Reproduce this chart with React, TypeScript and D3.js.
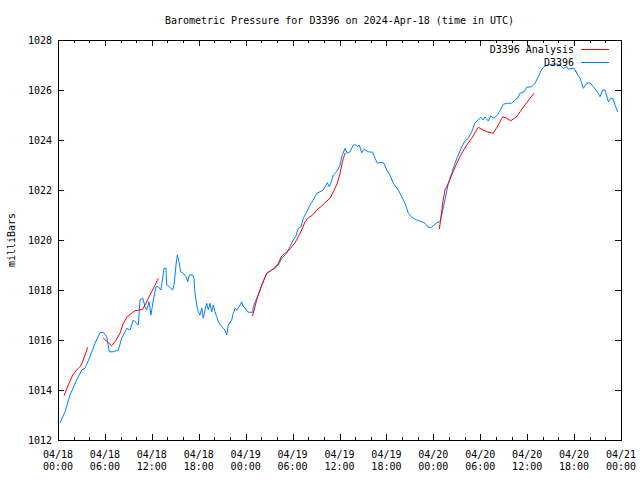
import React from "react";
import * as d3 from "d3";

// Hours after 2024-04-18 00:00 UTC and pressure (mb) for D3396 observations
const obsHours = [0.26,0.9,1.53,2.39,3.03,3.45,4.09,4.73,5.37,5.79,6.23,6.56,7.07,7.71,8.15,8.79,9.21,9.63,10.27,10.49,10.83,11.13,11.34,11.64,11.89,12.19,12.53,12.83,13.17,13.56,13.81,13.9,14.2,14.67,14.87,15.09,15.26,15.47,15.69,16.03,16.37,16.59,16.79,17.23,17.39,17.52,17.74,17.94,18.16,18.38,18.58,18.8,19.02,19.22,19.44,19.66,19.86,20.08,20.3,20.5,20.94,21.36,21.58,21.78,22.21,22.42,22.64,22.89,23.28,23.49,23.66,23.92,24.34,24.9,24.98,25.41,25.83,26.26,26.69,27.33,27.75,28.17,28.61,29.25,29.67,30.09,30.44,30.73,31.08,31.37,31.81,32.23,32.65,33.09,33.51,33.93,34.15,34.44,34.7,34.88,35.21,35.64,36.07,36.28,36.7,37.0,37.34,37.77,38.11,38.33,38.53,38.84,39.13,39.68,40.25,40.54,40.84,41.4,41.69,42.04,42.46,42.88,43.52,43.96,44.38,44.8,45.24,45.88,46.51,46.94,47.36,47.79,48.43,48.85,49.07,49.49,49.92,50.35,50.77,51.19,51.63,52.05,52.47,52.91,53.33,53.75,54.06,54.39,54.61,55.03,55.34,55.76,56.18,56.53,56.95,57.46,58.02,58.45,58.87,59.08,59.6,59.94,60.58,61.0,61.43,61.86,62.28,62.71,63.35,63.78,64.2,64.62,65.06,65.26,65.83,66.12,66.34,66.76,67.18,67.62,68.04,68.46,68.97,69.32,69.66,69.96,70.38,70.69,70.94,71.24,71.58];
const obsValues = [1012.69,1013.13,1013.8,1014.4,1014.8,1014.87,1015.33,1015.87,1016.29,1016.31,1016.13,1015.53,1015.53,1015.6,1016.07,1016.47,1016.4,1016.8,1016.6,1017.6,1017.68,1017.33,1017.2,1017.53,1017.0,1017.6,1018.13,1018.13,1018.0,1018.87,1018.87,1018.2,1018.13,1018.0,1018.27,1019.0,1019.4,1019.13,1018.73,1018.67,1018.53,1018.33,1018.6,1018.6,1018.47,1017.87,1017.4,1017.13,1017.0,1017.28,1016.87,1017.2,1017.47,1017.2,1017.47,1017.13,1017.4,1017.13,1016.93,1016.73,1016.53,1016.4,1016.2,1016.6,1016.8,1017.07,1017.27,1017.2,1017.4,1017.53,1017.36,1017.27,1017.11,1017.11,1017.33,1017.67,1018.0,1018.33,1018.67,1018.8,1018.93,1019.0,1019.27,1019.47,1019.73,1020.0,1020.16,1020.47,1020.53,1020.87,1021.13,1021.4,1021.6,1021.87,1021.93,1022.0,1022.13,1022.29,1022.13,1022.27,1022.6,1022.73,1023.0,1023.33,1023.67,1023.47,1023.53,1023.8,1023.8,1023.73,1023.8,1023.49,1023.63,1023.53,1023.51,1023.27,1023.07,1023.11,1023.07,1022.8,1022.6,1022.27,1022.0,1021.73,1021.47,1021.07,1020.91,1020.8,1020.73,1020.67,1020.51,1020.51,1020.69,1020.73,1021.0,1021.6,1022.27,1022.67,1023.07,1023.4,1023.73,1023.96,1024.07,1024.33,1024.69,1024.8,1024.91,1024.8,1024.92,1024.76,1024.96,1024.87,1025.0,1025.17,1025.43,1025.47,1025.47,1025.6,1025.71,1025.87,1025.93,1026.11,1026.13,1026.27,1026.53,1026.83,1026.96,1027.0,1027.04,1027.04,1027.0,1026.87,1026.93,1026.83,1026.87,1026.83,1026.67,1026.47,1026.07,1026.27,1026.29,1026.13,1025.93,1025.73,1026.0,1026.0,1025.53,1025.67,1025.67,1025.4,1025.13];

// Analysis series (NaN separates the runs)
const anaHours = [0.77,1.32,1.88,2.39,2.9,3.24,3.8,NaN,5.79,6.31,6.87,7.29,7.93,8.35,8.86,9.43,9.85,10.4,10.83,11.13,11.55,11.98,12.41,12.83,NaN,24.87,25.41,26.05,26.69,27.33,27.84,28.17,28.61,29.03,29.45,29.89,30.31,30.73,31.17,31.59,32.01,32.57,33.09,33.72,34.28,34.79,35.21,35.72,36.07,36.28,36.49,36.74,NaN,48.76,48.94,49.2,49.49,49.92,50.35,50.99,51.63,52.27,52.91,53.75,54.19,54.83,55.67,56.31,56.87,57.38,57.9,58.66,59.08,59.73,60.36,60.88];
const anaValues = [1013.77,1014.2,1014.6,1014.8,1014.96,1015.2,1015.71,NaN,1016.07,1015.93,1015.77,1015.93,1016.27,1016.67,1016.93,1017.07,1017.17,1017.2,1017.23,1017.4,1017.67,1017.93,1018.2,1018.47,NaN,1016.96,1017.6,1018.2,1018.67,1018.8,1018.89,1019.07,1019.36,1019.47,1019.57,1019.73,1019.89,1020.13,1020.4,1020.73,1020.89,1021.0,1021.2,1021.36,1021.53,1021.67,1021.93,1022.27,1022.67,1023.0,1023.27,1023.49,NaN,1020.43,1020.8,1021.47,1022.0,1022.27,1022.6,1023.07,1023.47,1023.8,1024.07,1024.51,1024.43,1024.33,1024.27,1024.6,1024.93,1024.87,1024.77,1024.93,1025.13,1025.4,1025.67,1025.87];

const yTickValues = [1012,1014,1016,1018,1020,1022,1024,1026,1028];
const xMajorHours = [0,6,12,18,24,30,36,42,48,54,60,66,72];
const xMinorHours = [2,4,8,10,14,16,20,22,26,28,32,34,38,40,44,46,50,52,56,58,62,64,68,70];
const seriesNames = ["D3396 Analysis", "D3396"];
const titleText = "Barometric Pressure for D3396 on 2024-Apr-18 (time in UTC)";
const yLabel = "milliBars";

const start = Date.UTC(2024, 3, 18, 0, 0);
const toDate = (h: number) => new Date(start + h * 3600000);

export default function App() {
  const W = 640, H = 480;
  const L = 58, R = 621, T = 40, B = 440;
  const x = d3.scaleUtc().domain([toDate(0), toDate(72)]).range([L, R]);
  const y = d3.scaleLinear().domain([1012, 1028]).range([B, T]);
  const font = "'DejaVu Sans Mono', 'Liberation Mono', monospace";
  const fmtD = d3.utcFormat("%m/%d");
  const fmtT = d3.utcFormat("%H:%M");

  const line = d3
    .line<[number, number]>()
    .defined((d) => !isNaN(d[0]) && !isNaN(d[1]))
    .x((d) => x(toDate(d[0])))
    .y((d) => y(d[1]));

  const obs = obsHours.map((h, i) => [h, obsValues[i]] as [number, number]);
  const ana = anaHours.map((h, i) => [h, anaValues[i]] as [number, number]);

  const crisp = (v: number) => Math.round(v) + 0.5;

  return (
    <svg
      width={W}
      height={H}
      style={{ position: "absolute", left: 0, top: 0, background: "#fff" }}
      fontFamily={font}
      fontSize={10}
    >
      <rect x={0} y={0} width={W} height={H} fill="#fff" />
      <text x={(L + R) / 2} y={20} textAnchor="middle" dominantBaseline="central" fill="#000">
        {titleText}
      </text>
      <text
        transform={`translate(11,${(T + B) / 2}) rotate(-90)`}
        textAnchor="middle"
        dominantBaseline="central"
        fill="#000"
      >
        {yLabel}
      </text>

      {/* y ticks */}
      {yTickValues.map((v) => (
        <g key={"y" + v}>
          <line x1={L} x2={L + 6} y1={crisp(y(v))} y2={crisp(y(v))} stroke="#000" />
          <line x1={R - 6} x2={R} y1={crisp(y(v))} y2={crisp(y(v))} stroke="#000" />
          <text x={52} y={y(v)} textAnchor="end" dominantBaseline="central" fill="#000">
            {v}
          </text>
        </g>
      ))}

      {/* x major ticks */}
      {xMajorHours.map((h) => {
        const px = crisp(x(toDate(h)));
        return (
          <g key={"xm" + h}>
            <line x1={px} x2={px} y1={B} y2={B - 6} stroke="#000" />
            <line x1={px} x2={px} y1={T} y2={T + 6} stroke="#000" />
            <text x={x(toDate(h))} y={454} textAnchor="middle" dominantBaseline="central" fill="#000">
              {fmtD(toDate(h))}
            </text>
            <text x={x(toDate(h))} y={466} textAnchor="middle" dominantBaseline="central" fill="#000">
              {fmtT(toDate(h))}
            </text>
          </g>
        );
      })}
      {xMinorHours.map((h) => {
        const px = crisp(x(toDate(h)));
        return (
          <g key={"xn" + h}>
            <line x1={px} x2={px} y1={B} y2={B - 3} stroke="#000" />
            <line x1={px} x2={px} y1={T} y2={T + 3} stroke="#000" />
          </g>
        );
      })}

      {/* series */}
      <path d={line(obs) || ""} fill="none" stroke="#0080ff" strokeWidth={1} />
      <path d={line(ana) || ""} fill="none" stroke="#ff0000" strokeWidth={1} />

      {/* frame */}
      <rect x={L + 0.5} y={T + 0.5} width={R - L} height={B - T} fill="none" stroke="#000" />

      {/* legend */}
      <text x={574} y={49} textAnchor="end" dominantBaseline="central" fill="#000">
        {seriesNames[0]}
      </text>
      <line x1={581} x2={609} y1={49.5} y2={49.5} stroke="#ff0000" />
      <text x={574} y={62} textAnchor="end" dominantBaseline="central" fill="#000">
        {seriesNames[1]}
      </text>
      <line x1={581} x2={609} y1={62.5} y2={62.5} stroke="#0080ff" />
    </svg>
  );
}
